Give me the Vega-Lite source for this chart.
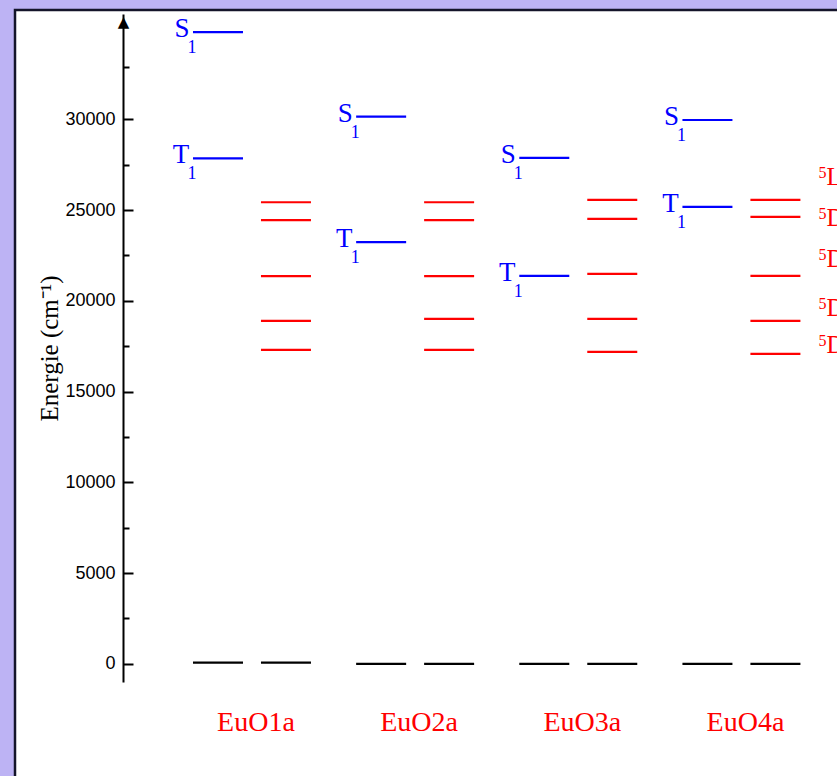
{
  "$schema": "https://vega.github.io/schema/vega-lite/v6.json",
  "width": 830,
  "height": 780,
  "autosize": {"type": "none"},
  "padding": {"left": 15, "top": 10, "right": 0, "bottom": 0},
  "background": "#bdb3f4",
  "config": {
    "view": {"stroke": "#14142a", "strokeWidth": 2.5, "fill": "white"},
    "text": {"font": "Liberation Serif"}
  },
  "data": {
    "values": [
      {"compound": "EuO1a", "col": "L", "kind": "ligand", "state": "S1", "energy": 34800},
      {"compound": "EuO1a", "col": "L", "kind": "ligand", "state": "T1", "energy": 27850},
      {"compound": "EuO1a", "col": "L", "kind": "ground", "state": "S0", "energy": 70},
      {"compound": "EuO1a", "col": "Eu", "kind": "Eu", "state": "5L6", "energy": 25430},
      {"compound": "EuO1a", "col": "Eu", "kind": "Eu", "state": "5D3", "energy": 24440},
      {"compound": "EuO1a", "col": "Eu", "kind": "Eu", "state": "5D2", "energy": 21360},
      {"compound": "EuO1a", "col": "Eu", "kind": "Eu", "state": "5D1", "energy": 18890},
      {"compound": "EuO1a", "col": "Eu", "kind": "Eu", "state": "5D0", "energy": 17300},
      {"compound": "EuO1a", "col": "Eu", "kind": "ground", "state": "7F0", "energy": 70},
      {"compound": "EuO2a", "col": "L", "kind": "ligand", "state": "S1", "energy": 30150},
      {"compound": "EuO2a", "col": "L", "kind": "ligand", "state": "T1", "energy": 23230},
      {"compound": "EuO2a", "col": "L", "kind": "ground", "state": "S0", "energy": 0},
      {"compound": "EuO2a", "col": "Eu", "kind": "Eu", "state": "5L6", "energy": 25430},
      {"compound": "EuO2a", "col": "Eu", "kind": "Eu", "state": "5D3", "energy": 24440},
      {"compound": "EuO2a", "col": "Eu", "kind": "Eu", "state": "5D2", "energy": 21360},
      {"compound": "EuO2a", "col": "Eu", "kind": "Eu", "state": "5D1", "energy": 19000},
      {"compound": "EuO2a", "col": "Eu", "kind": "Eu", "state": "5D0", "energy": 17300},
      {"compound": "EuO2a", "col": "Eu", "kind": "ground", "state": "7F0", "energy": 0},
      {"compound": "EuO3a", "col": "L", "kind": "ligand", "state": "S1", "energy": 27870},
      {"compound": "EuO3a", "col": "L", "kind": "ligand", "state": "T1", "energy": 21370},
      {"compound": "EuO3a", "col": "L", "kind": "ground", "state": "S0", "energy": 0},
      {"compound": "EuO3a", "col": "Eu", "kind": "Eu", "state": "5L6", "energy": 25560},
      {"compound": "EuO3a", "col": "Eu", "kind": "Eu", "state": "5D3", "energy": 24510},
      {"compound": "EuO3a", "col": "Eu", "kind": "Eu", "state": "5D2", "energy": 21480},
      {"compound": "EuO3a", "col": "Eu", "kind": "Eu", "state": "5D1", "energy": 19000},
      {"compound": "EuO3a", "col": "Eu", "kind": "Eu", "state": "5D0", "energy": 17190},
      {"compound": "EuO3a", "col": "Eu", "kind": "ground", "state": "7F0", "energy": 0},
      {"compound": "EuO4a", "col": "L", "kind": "ligand", "state": "S1", "energy": 29960},
      {"compound": "EuO4a", "col": "L", "kind": "ligand", "state": "T1", "energy": 25170},
      {"compound": "EuO4a", "col": "L", "kind": "ground", "state": "S0", "energy": 0},
      {"compound": "EuO4a", "col": "Eu", "kind": "Eu", "state": "5L6", "energy": 25560},
      {"compound": "EuO4a", "col": "Eu", "kind": "Eu", "state": "5D3", "energy": 24620},
      {"compound": "EuO4a", "col": "Eu", "kind": "Eu", "state": "5D2", "energy": 21370},
      {"compound": "EuO4a", "col": "Eu", "kind": "Eu", "state": "5D1", "energy": 18890},
      {"compound": "EuO4a", "col": "Eu", "kind": "Eu", "state": "5D0", "energy": 17080},
      {"compound": "EuO4a", "col": "Eu", "kind": "ground", "state": "7F0", "energy": 0}
    ]
  },
  "layer": [
    {
      "mark": {"type": "tick", "size": 50, "thickness": 2.2, "opacity": 1},
      "encoding": {
        "x": {"field": "compound", "type": "nominal", "axis": null,
              "scale": {"domain": ["EuO1a", "EuO2a", "EuO3a", "EuO4a"], "paddingInner": 0, "paddingOuter": 0.5437, "align": 0.876}},
        "xOffset": {"field": "col", "type": "nominal",
              "scale": {"domain": ["L", "Eu"], "paddingInner": 0, "paddingOuter": 0.2}},
        "y": {"field": "energy", "type": "quantitative",
              "scale": {"domain": [-1000, 35800], "range": [672, 4], "zero": false, "nice": false},
              "axis": {"orient": "left", "offset": -108, "values": [0, 5000, 10000, 15000, 20000, 25000, 30000],
                       "format": "d",
                       "grid": false, "domain": true, "domainColor": "black", "domainWidth": 2,
                       "ticks": true, "tickSize": -10, "tickWidth": 2, "tickColor": "black",
                       "labelFont": "Liberation Sans", "labelFontSize": 18, "labelColor": "black", "labelPadding": 18,
                       "title": "Energie (cm⁻¹)", "titleFont": "Liberation Serif", "titleFontSize": 25,
                       "titleFontWeight": "normal", "titleColor": "black", "titlePadding": 2}},
        "color": {"field": "kind", "type": "nominal", "legend": null,
                  "scale": {"domain": ["ligand", "Eu", "ground"], "range": ["#0000ff", "#ff0000", "#000000"]}}
      }
    },
    {
      "transform": [{"filter": "datum.state == 'S1'"}],
      "mark": {"type": "text", "text": "S", "fontSize": 27, "color": "#0000ff", "align": "center", "baseline": "alphabetic", "dx": -36, "dy": 5},
      "encoding": {
        "x": {"field": "compound", "type": "nominal"},
        "xOffset": {"field": "col", "type": "nominal"},
        "y": {"field": "energy", "type": "quantitative",
              "axis": {"orient": "left", "offset": -108, "values": [2500, 7500, 12500, 17500, 22500, 27500, 32900],
                       "grid": false, "domain": false, "labels": false, "title": null,
                       "ticks": true, "tickSize": -6, "tickWidth": 2, "tickColor": "black"}}
      }
    },
    {
      "transform": [{"filter": "datum.state == 'T1'"}],
      "mark": {"type": "text", "text": "T", "fontSize": 27, "color": "#0000ff", "align": "center", "baseline": "alphabetic", "dx": -37, "dy": 5},
      "encoding": {
        "x": {"field": "compound", "type": "nominal"},
        "xOffset": {"field": "col", "type": "nominal"},
        "y": {"field": "energy", "type": "quantitative", "axis": null}
      }
    },
    {
      "transform": [{"filter": "datum.state == 'S1' || datum.state == 'T1'"}],
      "mark": {"type": "text", "text": "1", "fontSize": 18, "color": "#0000ff", "align": "center", "baseline": "alphabetic", "dx": -26, "dy": 21},
      "encoding": {
        "x": {"field": "compound", "type": "nominal"},
        "xOffset": {"field": "col", "type": "nominal"},
        "y": {"field": "energy", "type": "quantitative",
              "axis": {"orient": "left", "offset": -108, "values": [35400], "labelExpr": "'▲'",
                       "grid": false, "domain": false, "ticks": false, "title": null,
                       "labelFont": "DejaVu Sans", "labelFontSize": 15, "labelColor": "black",
                       "labelAlign": "center", "labelBaseline": "middle", "labelPadding": 0}}
      }
    },
    {
      "transform": [{"filter": "datum.state == 'S1'"}],
      "mark": {"type": "text", "fontSize": 28, "color": "#ff0000", "align": "center", "baseline": "alphabetic", "dx": 4},
      "encoding": {
        "x": {"field": "compound", "type": "nominal"},
        "y": {"datum": -3690, "type": "quantitative", "axis": null},
        "text": {"field": "compound"}
      }
    },
    {
      "data": {"values": [
        {"compound": "EuO4a", "col": "Eu", "mult": "5", "term": "L", "J": "6", "labelEnergy": 26380},
        {"compound": "EuO4a", "col": "Eu", "mult": "5", "term": "D", "J": "3", "labelEnergy": 24125},
        {"compound": "EuO4a", "col": "Eu", "mult": "5", "term": "D", "J": "2", "labelEnergy": 21870},
        {"compound": "EuO4a", "col": "Eu", "mult": "5", "term": "D", "J": "1", "labelEnergy": 19190},
        {"compound": "EuO4a", "col": "Eu", "mult": "5", "term": "D", "J": "0", "labelEnergy": 17130}
      ]},
      "layer": [
        {
          "mark": {"type": "text", "fontSize": 16, "color": "#ff0000", "align": "left", "baseline": "alphabetic", "dx": 43, "dy": -7},
          "encoding": {
            "x": {"field": "compound", "type": "nominal"},
            "xOffset": {"field": "col", "type": "nominal"},
            "y": {"field": "labelEnergy", "type": "quantitative", "axis": null},
            "text": {"field": "mult"}
          }
        },
        {
          "mark": {"type": "text", "fontSize": 25, "color": "#ff0000", "align": "left", "baseline": "alphabetic", "dx": 51},
          "encoding": {
            "x": {"field": "compound", "type": "nominal"},
            "xOffset": {"field": "col", "type": "nominal"},
            "y": {"field": "labelEnergy", "type": "quantitative", "axis": null},
            "text": {"field": "term"}
          }
        },
        {
          "mark": {"type": "text", "fontSize": 16, "color": "#ff0000", "align": "left", "baseline": "alphabetic", "dx": 68, "dy": 6},
          "encoding": {
            "x": {"field": "compound", "type": "nominal"},
            "xOffset": {"field": "col", "type": "nominal"},
            "y": {"field": "labelEnergy", "type": "quantitative", "axis": null},
            "text": {"field": "J"}
          }
        }
      ]
    }
  ],
  "resolve": {"axis": {"y": "independent"}}
}
